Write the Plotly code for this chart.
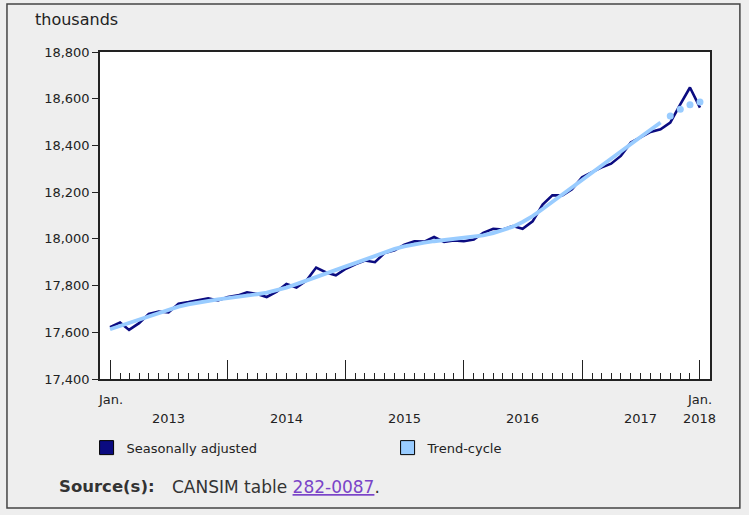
import plotly.graph_objects as go
import pandas as pd

# ---- data (thousands) ----
months = pd.date_range("2013-01-01", "2018-01-01", freq="MS").strftime("%Y-%m-%d").tolist()

seasonally_adjusted = [
    17622, 17642, 17610, 17639, 17679, 17689, 17685, 17722, 17729, 17738, 17745, 17736,  # 2013
    17751, 17758, 17771, 17764, 17751, 17774, 17807, 17792, 17822, 17877, 17856, 17844,  # 2014
    17872, 17892, 17907, 17900, 17940, 17951, 17975, 17990, 17988, 18008, 17987, 17993,  # 2015
    17990, 17997, 18026, 18043, 18040, 18055, 18043, 18075, 18147, 18186, 18186, 18212,  # 2016
    18264, 18286, 18305, 18322, 18355, 18412, 18434, 18458, 18469, 18498, 18576, 18648,  # 2017
    18562,                                                                               # 2018
]

trend_cycle = [
    17613, 17627, 17641, 17655, 17670, 17685, 17699, 17710, 17720, 17728, 17735, 17741,
    17746, 17751, 17757, 17763, 17770, 17779, 17791, 17806, 17822, 17838, 17853, 17867,
    17882, 17897, 17912, 17928, 17943, 17957, 17968, 17977, 17984, 17990, 17995, 17999,
    18003, 18008, 18015, 18025, 18037, 18052, 18072, 18097, 18128, 18159, 18190, 18221,
    18252, 18282, 18313, 18344, 18375, 18405, 18436, 18467, 18498,
]
trend_cycle_provisional = [18526, 18555, 18574, 18586]  # Oct 2017 - Jan 2018 (dotted)

year_ticks = ["2013-01-01", "2014-01-01", "2015-01-01", "2016-01-01", "2017-01-01", "2018-01-01"]
year_labels = ["2013", "2014", "2015", "2016", "2017", "2018"]
year_label_pos = ["2013-07-01", "2014-07-01", "2015-07-01", "2016-07-01", "2017-07-01", "2018-01-01"]
y_ticks = [17400, 17600, 17800, 18000, 18200, 18400, 18600, 18800]

SA_COLOR = "#0b0b80"
TC_COLOR = "#99ccff"
FONT = "DejaVu Sans"

fig = go.Figure()

fig.add_trace(go.Scatter(
    x=months, y=seasonally_adjusted, mode="lines",
    line=dict(color=SA_COLOR, width=2.6), showlegend=False,
))
fig.add_trace(go.Scatter(
    x=months[:len(trend_cycle)], y=trend_cycle, mode="lines",
    line=dict(color=TC_COLOR, width=3.9), showlegend=False,
))
fig.add_trace(go.Scatter(
    x=months[len(trend_cycle):], y=trend_cycle_provisional, mode="markers",
    marker=dict(color=TC_COLOR, size=7), showlegend=False,
))

# legend entries (square swatches)
fig.add_trace(go.Scatter(
    x=[None], y=[None], mode="markers", name="Seasonally adjusted",
    marker=dict(symbol="square", size=14, color=SA_COLOR, line=dict(color="#000", width=1)),
))
fig.add_trace(go.Scatter(
    x=[None], y=[None], mode="markers", name="Trend-cycle",
    marker=dict(symbol="square", size=14, color=TC_COLOR, line=dict(color="#000", width=1)),
))

lab_font = dict(size=13, color="#222", family=FONT)
annotations = []
annotations.append(dict(text="Jan.", x=months[0], y=-0.064, xref="x", yref="paper",
                        yanchor="middle", showarrow=False, font=lab_font))
annotations.append(dict(text="Jan.", x=months[-1], y=-0.064, xref="x", yref="paper",
                        yanchor="middle", showarrow=False, font=lab_font))
for lab, pos in zip(year_labels, year_label_pos):
    annotations.append(dict(text=lab, x=pos, y=-0.12, xref="x", yref="paper",
                            yanchor="middle", showarrow=False, font=lab_font))
annotations.append(dict(text="thousands", x=-0.110, y=1.10, xref="paper", yref="paper",
                        xanchor="left", yanchor="middle", showarrow=False,
                        font=dict(size=16, color="#222", family=FONT)))
annotations.append(dict(text="<b>Source(s):</b>", x=-0.0705, y=-0.33, xref="paper", yref="paper",
                        xanchor="left", yanchor="middle", showarrow=False,
                        font=dict(size=16.5, color="#333", family=FONT)))
annotations.append(dict(text="CANSIM table <span style='color:#7a44c8'><u>282-0087</u></span>.",
                        x=0.115, y=-0.33, xref="paper", yref="paper",
                        xanchor="left", yanchor="middle", showarrow=False,
                        font=dict(size=17, color="#333", family=FONT)))

fig.update_layout(
    width=749, height=515,
    margin=dict(l=100, r=39, t=52, b=136),
    paper_bgcolor="#eeeeee", plot_bgcolor="#ffffff",
    font=dict(family=FONT, size=13, color="#222"),
    showlegend=True,
    legend=dict(orientation="h", x=-0.022, y=-0.21, xanchor="left", yanchor="middle",
                bgcolor="rgba(0,0,0,0)", font=dict(size=13, family=FONT, color="#222"),
                entrywidth=256, entrywidthmode="pixels", itemwidth=30, tracegroupgap=0),
    annotations=annotations,
    shapes=[dict(type="rect", xref="paper", yref="paper",
                 x0=-0.1525, x1=1.049, y0=-0.3945, y1=1.1468,
                 line=dict(color="#444", width=1.5), fillcolor="rgba(0,0,0,0)", layer="below")],
    hovermode=False,
)

fig.update_xaxes(
    type="date",
    range=["2012-12-01", "2018-02-01"],
    tickmode="array", tickvals=year_ticks, showticklabels=False,
    ticks="inside", ticklen=19, tickwidth=1.2, tickcolor="#222",
    minor=dict(dtick="M1", tick0="2013-01-01", ticks="inside", ticklen=6,
               tickwidth=1, tickcolor="#222", showgrid=False),
    showgrid=False, zeroline=False,
    showline=True, linecolor="#222", linewidth=1.5, mirror=True,
)
fig.update_yaxes(
    range=[17400, 18800], tickmode="array", tickvals=y_ticks,
    tickformat=",d", ticks="outside", ticklen=6, tickcolor="#222", tickwidth=1,
    tickfont=dict(size=13, color="#222", family=FONT),
    showgrid=False, zeroline=False,
    showline=True, linecolor="#222", linewidth=1.5, mirror=True,
)

fig.write_html(
    "out.html",
    config={"displayModeBar": False},
    post_script="document.body.style.margin='0';document.body.style.background='#eeeeee';",
)
